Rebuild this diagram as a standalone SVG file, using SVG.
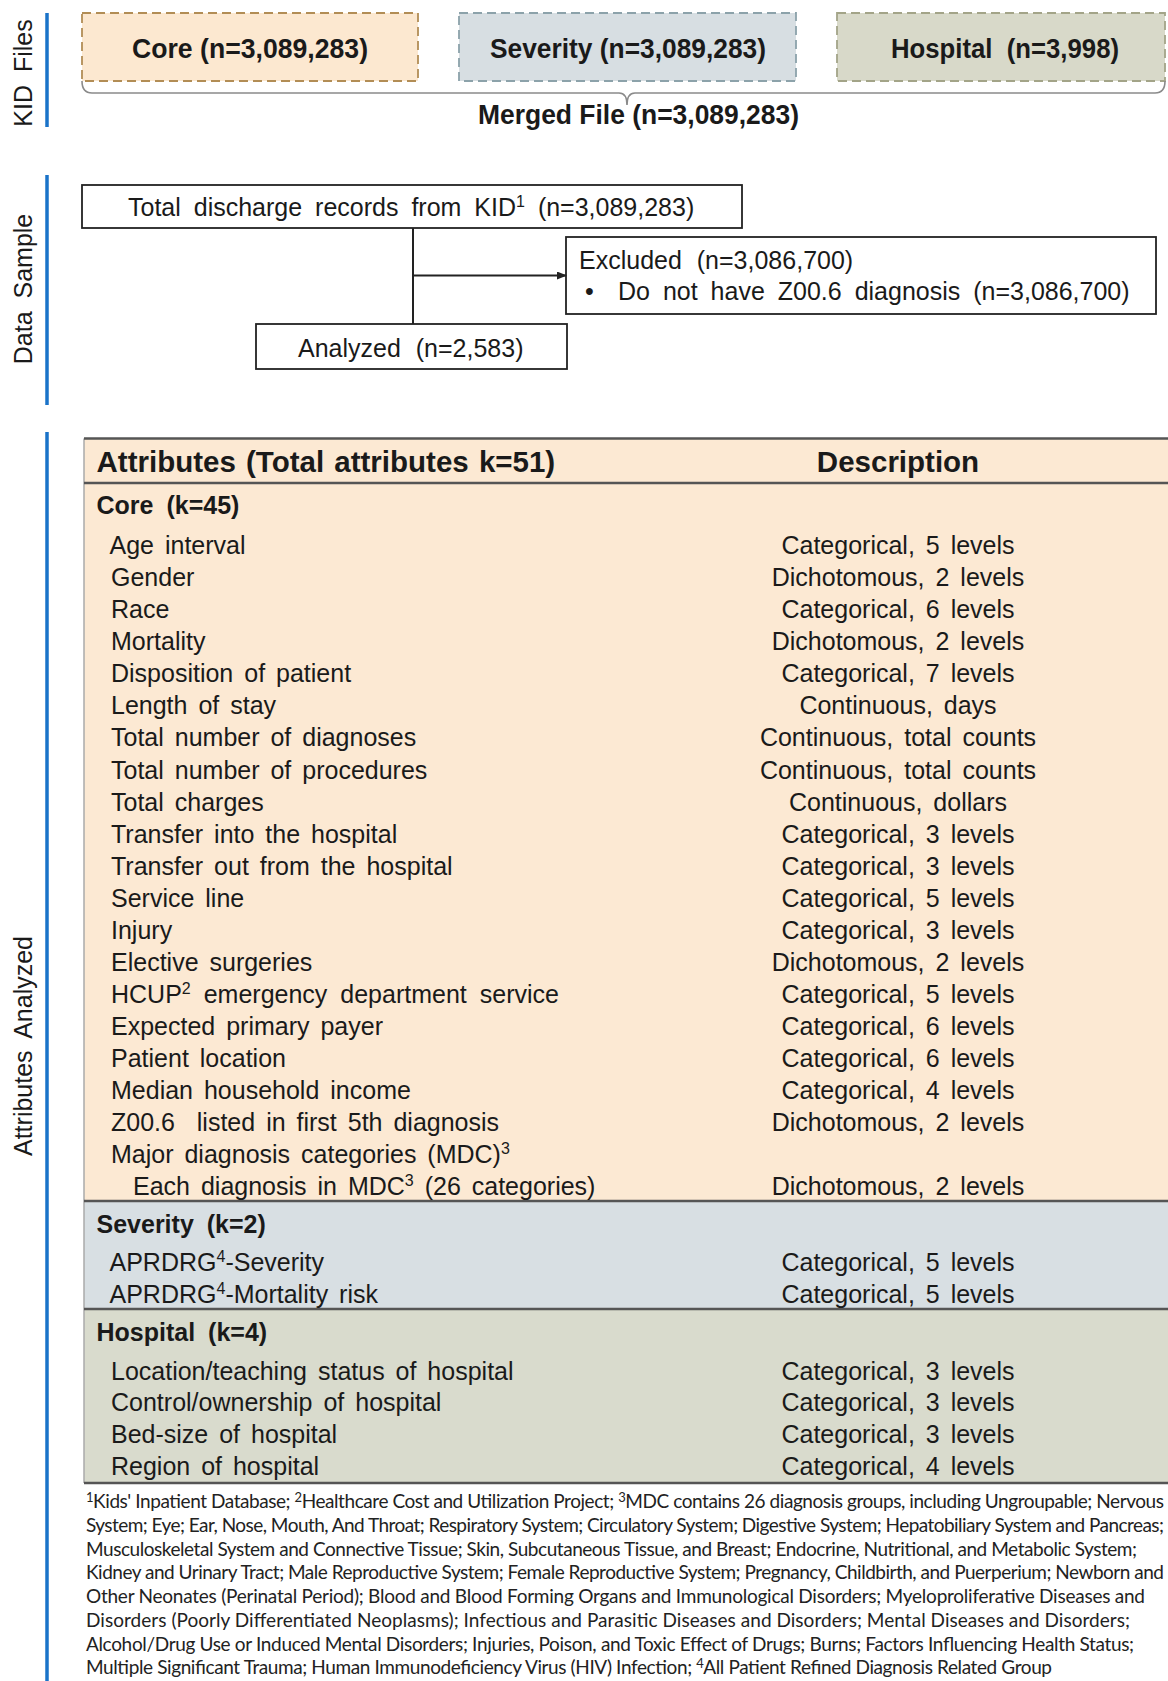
<svg xmlns="http://www.w3.org/2000/svg" width="1168" height="1681" viewBox="0 0 1168 1681">
<style>
text{font-family:"Liberation Sans",Arial,sans-serif;fill:#1a1a1a}
.side{font-size:25px;word-spacing:6px}
.kid{font-size:28px;font-weight:bold}
.box{fill:#fff;stroke:#222;stroke-width:1.8}
.t{font-size:25px;word-spacing:4px}
.hd{font-size:29.5px;font-weight:bold;word-spacing:2px}
.sec{font-size:25px;font-weight:bold;word-spacing:6px}
.d{font-size:25px;word-spacing:4px;text-anchor:middle}
.sup{font-size:16px}
.fn{font-family:Lato,"Liberation Sans",sans-serif;font-size:19px;fill:#222}
.fsup{font-size:13px}
.rule{stroke:#555;stroke-width:2.5}
.blue{stroke:#1a73c9;stroke-width:3.5}
.conn{stroke:#222;stroke-width:2;fill:none}
</style>
<defs>
<marker id="arr" markerWidth="10" markerHeight="8" refX="9" refY="4" orient="auto" markerUnits="userSpaceOnUse">
<path d="M0,0 L10,4 L0,8 Z" fill="#222"/>
</marker>
</defs>

<!-- Section side labels -->
<g id="side-labels">
<line class="blue" x1="47" y1="13" x2="47" y2="127"/>
<line class="blue" x1="47" y1="175" x2="47" y2="405"/>
<line class="blue" x1="47" y1="432" x2="47" y2="1681"/>
<text class="side" transform="translate(32,73) rotate(-90)" text-anchor="middle">KID Files</text>
<text class="side" transform="translate(32,289) rotate(-90)" text-anchor="middle">Data Sample</text>
<text class="side" transform="translate(32,1046) rotate(-90)" text-anchor="middle">Attributes Analyzed</text>
</g>

<!-- KID files -->
<g id="kid-core">
<rect x="82" y="13" width="336" height="68" fill="#fce8d0" stroke="#b28d55" stroke-width="1.8" stroke-dasharray="9,5"/>
<text class="kid" x="250" y="57.5" text-anchor="middle" textLength="236" lengthAdjust="spacingAndGlyphs">Core (n=3,089,283)</text>
</g>
<g id="kid-severity">
<rect x="459" y="13" width="337" height="68" fill="#d7dee2" stroke="#8ca2aa" stroke-width="1.8" stroke-dasharray="9,5"/>
<text class="kid" x="628" y="57.5" text-anchor="middle" textLength="276" lengthAdjust="spacingAndGlyphs">Severity (n=3,089,283)</text>
</g>
<g id="kid-hospital">
<rect x="837" y="13" width="328" height="68" fill="#d8d9c9" stroke="#a3a488" stroke-width="1.8" stroke-dasharray="9,5"/>
<text class="kid" x="1005" y="57.5" text-anchor="middle" textLength="228" lengthAdjust="spacingAndGlyphs" xml:space="preserve">Hospital  (n=3,998)</text>
</g>
<g id="merged">
<text class="kid" x="638.5" y="124" text-anchor="middle" textLength="321" lengthAdjust="spacingAndGlyphs">Merged File (n=3,089,283)</text>
</g>

<!-- Data sample -->
<g id="total">
<rect class="box" x="82" y="185" width="660" height="43"/>
<text class="t" x="128" y="216" style="word-spacing:6px">Total discharge records from KID<tspan class="sup" dy="-9">1</tspan><tspan dy="9"> (n=3,089,283)</tspan></text>
</g>
<g id="excluded">
<rect class="box" x="566" y="237" width="590" height="77"/>
<text class="t" x="579" y="268.5" style="word-spacing:8px">Excluded (n=3,086,700)</text>
<text class="t" x="585" y="299.5">•</text>
<text class="t" x="618" y="299.5" style="word-spacing:6px">Do not have Z00.6 diagnosis (n=3,086,700)</text>
</g>
<g id="analyzed">
<rect class="box" x="256" y="324" width="311" height="45"/>
<text class="t" x="298" y="356.5" style="word-spacing:8px">Analyzed (n=2,583)</text>
</g>

<!-- Table -->
<g id="table">
<rect x="84" y="438.5" width="1090" height="763" fill="#fce9d3"/>
<rect x="84" y="1201" width="1090" height="108.5" fill="#d8dfe3"/>
<rect x="84" y="1309.5" width="1090" height="173.5" fill="#d9dbcd"/>
<line x1="84" y1="438.5" x2="84" y2="1483" stroke="#aaa" stroke-width="1.5"/>
<line class="rule" x1="84" y1="438.5" x2="1168" y2="438.5"/>
<line class="rule" x1="84" y1="483" x2="1168" y2="483"/>
<line class="rule" x1="84" y1="1201" x2="1168" y2="1201"/>
<line class="rule" x1="84" y1="1309" x2="1168" y2="1309"/>
<line class="rule" x1="84" y1="1483" x2="1168" y2="1483"/>

<text class="hd" x="96.5" y="471.5">Attributes (Total attributes k=51)</text>
<text class="hd" x="898" y="471.5" text-anchor="middle">Description</text>

<text class="sec" x="96.5" y="514">Core (k=45)</text>
<text class="t" x="109.5" y="554">Age interval</text>
<text class="t" x="111" y="586.1">Gender</text>
<text class="t" x="111" y="618.1">Race</text>
<text class="t" x="111" y="650.2">Mortality</text>
<text class="t" x="111" y="682.3">Disposition of patient</text>
<text class="t" x="111" y="714.4">Length of stay</text>
<text class="t" x="111" y="746.4">Total number of diagnoses</text>
<text class="t" x="111" y="778.5">Total number of procedures</text>
<text class="t" x="111" y="810.6">Total charges</text>
<text class="t" x="111" y="842.6">Transfer into the hospital</text>
<text class="t" x="111" y="874.7">Transfer out from the hospital</text>
<text class="t" x="111" y="906.8">Service line</text>
<text class="t" x="111" y="938.8">Injury</text>
<text class="t" x="111" y="970.9">Elective surgeries</text>
<text class="t" x="111" y="1003" style="word-spacing:6px">HCUP<tspan class="sup" dy="-9">2</tspan><tspan dy="9"> emergency department service</tspan></text>
<text class="t" x="111" y="1035.1">Expected primary payer</text>
<text class="t" x="111" y="1067.1">Patient location</text>
<text class="t" x="111" y="1099.2">Median household income</text>
<text class="t" x="111" y="1131.3" xml:space="preserve">Z00.6  listed in first 5th diagnosis</text>
<text class="t" x="111" y="1163.3">Major diagnosis categories (MDC)<tspan class="sup" dy="-9">3</tspan></text>
<text class="t" x="133" y="1195.4">Each diagnosis in MDC<tspan class="sup" dy="-9">3</tspan><tspan dy="9"> (26 categories)</tspan></text>

<text class="d" x="898" y="554">Categorical, 5 levels</text>
<text class="d" x="898" y="586.1">Dichotomous, 2 levels</text>
<text class="d" x="898" y="618.1">Categorical, 6 levels</text>
<text class="d" x="898" y="650.2">Dichotomous, 2 levels</text>
<text class="d" x="898" y="682.3">Categorical, 7 levels</text>
<text class="d" x="898" y="714.4">Continuous, days</text>
<text class="d" x="898" y="746.4">Continuous, total counts</text>
<text class="d" x="898" y="778.5">Continuous, total counts</text>
<text class="d" x="898" y="810.6">Continuous, dollars</text>
<text class="d" x="898" y="842.6">Categorical, 3 levels</text>
<text class="d" x="898" y="874.7">Categorical, 3 levels</text>
<text class="d" x="898" y="906.8">Categorical, 5 levels</text>
<text class="d" x="898" y="938.8">Categorical, 3 levels</text>
<text class="d" x="898" y="970.9">Dichotomous, 2 levels</text>
<text class="d" x="898" y="1003">Categorical, 5 levels</text>
<text class="d" x="898" y="1035.1">Categorical, 6 levels</text>
<text class="d" x="898" y="1067.1">Categorical, 6 levels</text>
<text class="d" x="898" y="1099.2">Categorical, 4 levels</text>
<text class="d" x="898" y="1131.3">Dichotomous, 2 levels</text>
<text class="d" x="898" y="1195.4">Dichotomous, 2 levels</text>

<text class="sec" x="96.5" y="1233">Severity (k=2)</text>
<text class="t" x="109.5" y="1271">APRDRG<tspan class="sup" dy="-9">4</tspan><tspan dy="9">-Severity</tspan></text>
<text class="t" x="109.5" y="1302.5">APRDRG<tspan class="sup" dy="-9">4</tspan><tspan dy="9">-Mortality risk</tspan></text>
<text class="d" x="898" y="1271">Categorical, 5 levels</text>
<text class="d" x="898" y="1302.5">Categorical, 5 levels</text>

<text class="sec" x="96.5" y="1341">Hospital (k=4)</text>
<text class="t" x="111" y="1379.5">Location/teaching status of hospital</text>
<text class="t" x="111" y="1411">Control/ownership of hospital</text>
<text class="t" x="111" y="1443">Bed-size of hospital</text>
<text class="t" x="111" y="1474.5">Region of hospital</text>
<text class="d" x="898" y="1379.5">Categorical, 3 levels</text>
<text class="d" x="898" y="1411">Categorical, 3 levels</text>
<text class="d" x="898" y="1443">Categorical, 3 levels</text>
<text class="d" x="898" y="1474.5">Categorical, 4 levels</text>
</g>

<!-- Footnotes -->
<g id="footnotes">
<text class="fn" x="86" y="1508" textLength="1078" lengthAdjust="spacing"><tspan class="fsup" dy="-6">1</tspan><tspan dy="6">Kids' Inpatient Database; </tspan><tspan class="fsup" dy="-6">2</tspan><tspan dy="6">Healthcare Cost and Utilization Project; </tspan><tspan class="fsup" dy="-6">3</tspan><tspan dy="6">MDC contains 26 diagnosis groups, including Ungroupable; Nervous</tspan></text>
<text class="fn" x="86" y="1531.8" textLength="1078" lengthAdjust="spacing">System; Eye; Ear, Nose, Mouth, And Throat; Respiratory System; Circulatory System; Digestive System; Hepatobiliary System and Pancreas;</text>
<text class="fn" x="86" y="1555.5" textLength="1051" lengthAdjust="spacing">Musculoskeletal System and Connective Tissue; Skin, Subcutaneous Tissue, and Breast; Endocrine, Nutritional, and Metabolic System;</text>
<text class="fn" x="86" y="1579.3" textLength="1078" lengthAdjust="spacing">Kidney and Urinary Tract; Male Reproductive System; Female Reproductive System; Pregnancy, Childbirth, and Puerperium; Newborn and</text>
<text class="fn" x="86" y="1603" textLength="1059" lengthAdjust="spacing">Other Neonates (Perinatal Period); Blood and Blood Forming Organs and Immunological Disorders; Myeloproliferative Diseases and</text>
<text class="fn" x="86" y="1626.8" textLength="1044" lengthAdjust="spacing">Disorders (Poorly Differentiated Neoplasms); Infectious and Parasitic Diseases and Disorders; Mental Diseases and Disorders;</text>
<text class="fn" x="86" y="1650.5" textLength="1048" lengthAdjust="spacing">Alcohol/Drug Use or Induced Mental Disorders; Injuries, Poison, and Toxic Effect of Drugs; Burns; Factors Influencing Health Status;</text>
<text class="fn" x="86" y="1674.3" textLength="966" lengthAdjust="spacing">Multiple Significant Trauma; Human Immunodeficiency Virus (HIV) Infection; <tspan class="fsup" dy="-6">4</tspan><tspan dy="6">All Patient Refined Diagnosis Related Group</tspan></text>
</g>

<!-- Connectors -->
<g id="connectors">
<path d="M82,81 Q82,93 92,93 H619 Q627,93 627,105 Q627,93 635,93 H1155 Q1165,93 1165,81" fill="none" stroke="#8a8a8a" stroke-width="1.6"/>
<line class="conn" x1="413" y1="228" x2="413" y2="324"/>
<line class="conn" x1="413" y1="275.5" x2="566" y2="275.5" marker-end="url(#arr)"/>
</g>
</svg>
